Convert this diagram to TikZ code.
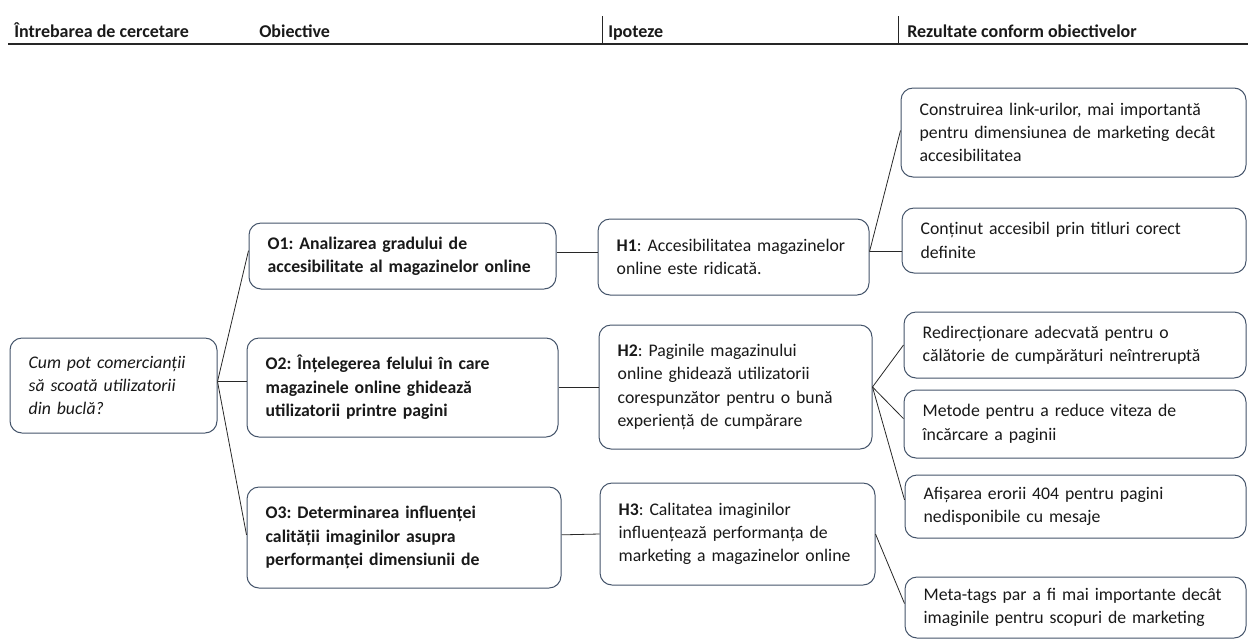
\documentclass[tikz,border=0pt]{standalone}
\usepackage{fontspec}
\setmainfont{Carlito}
\frenchspacing
\definecolor{boxline}{RGB}{68,84,106}
\definecolor{conn}{RGB}{40,40,40}
\definecolor{txt}{RGB}{25,25,25}
\begin{document}
\begin{tikzpicture}[x=0.75pt,y=-0.75pt,
  box/.style={draw=boxline, line width=0.75pt, rounded corners=9pt, fill=white,
    inner xsep=14pt, align=left, text=txt,
    font=\fontsize{13.3}{17.5}\selectfont\frenchspacing},
  bbox/.style={box, font=\fontsize{13.3}{17.5}\selectfont\bfseries\frenchspacing},
  connector/.style={draw=conn, line width=0.6pt},
  head/.style={anchor=base west, inner sep=0pt, text=txt, font=\fontsize{13.5}{15}\selectfont\bfseries},
  rule/.style={draw=black!85, line width=1.1pt}
]
\useasboundingbox (0,0) rectangle (1248,640);

% header
\node[head] (h1) at (14,37) {Întrebarea de cercetare};
\node[head] (h2) at (259,37) {Obiective};
\node[head] (h3) at (608,37) {Ipoteze};
\node[head] (h4) at (907,37) {Rezultate conform obiectivelor};
\draw[rule] (8,44) -- (1248,44);
\draw[draw=black!85, line width=0.75pt] (602,16) -- (602,44);
\draw[draw=black!85, line width=0.75pt] (898,16) -- (898,44);

% question
\node[box, minimum width=155.25pt, text width=127.25pt, minimum height=71.25pt] (Q) at (113.5,385.5)
  {\itshape Cum pot comercianții\\ să scoată utilizatorii\\ din buclă?};

% objectives
\node[bbox, minimum width=230.25pt, text width=202.25pt, minimum height=49.5pt] (O1) at (402.5,256)
  {O1: Analizarea gradului de\\ accesibilitate al magazinelor online};
\node[bbox, minimum width=233.25pt, text width=205.25pt, minimum height=74.25pt] (O2) at (402.5,387.5)
  {O2: Înțelegerea felului în care\\ magazinele online ghidează\\ utilizatorii printre pagini};
\node[bbox, minimum width=235.5pt, text width=207.5pt, minimum height=75.75pt] (O3) at (404,537.5)
  {O3: Determinarea influenței\\ calității imaginilor asupra\\ performanței dimensiunii de};

% hypotheses
\node[box, minimum width=203.25pt, text width=175.25pt, minimum height=57pt] (H1) at (733.5,257)
  {\textbf{H1}: Accesibilitatea magazinelor\\ online este ridicată.};
\node[box, minimum width=204.75pt, text width=176.75pt, minimum height=93pt] (H2) at (735.5,387)
  {\textbf{H2}: Paginile magazinului\\ online ghidează utilizatorii\\ corespunzător pentru o bună\\ experiență de cumpărare};
\node[box, minimum width=206.25pt, text width=178.25pt, minimum height=76.5pt] (H3) at (737.5,534)
  {\textbf{H3}: Calitatea imaginilor\\ influențează performanța de\\ marketing a magazinelor online};

% results
\node[box, minimum width=258.75pt, text width=230.75pt, minimum height=66.75pt] (R1) at (1073.5,132.5)
  {Construirea link-urilor, mai importantă\\ pentru dimensiunea de marketing decât\\ accesibilitatea};
\node[box, minimum width=258pt, text width=230pt, minimum height=48.75pt] (R2) at (1074,240.5)
  {Conținut accesibil prin titluri corect\\ definite};
\node[box, minimum width=256.5pt, text width=228.5pt, minimum height=49.5pt] (R3) at (1075,345)
  {Redirecționare adecvată pentru o\\ călătorie de cumpărături neîntreruptă};
\node[box, minimum width=256.5pt, text width=228.5pt, minimum height=51pt] (R4) at (1075,424)
  {Metode pentru a reduce viteza de\\ încărcare a paginii};
\node[box, minimum width=255.75pt, text width=227.75pt, minimum height=47.25pt] (R5) at (1075.5,506.5)
  {Afișarea erorii 404 pentru pagini\\ nedisponibile cu mesaje};
\node[box, minimum width=255.75pt, text width=227.75pt, minimum height=45.75pt] (R6) at (1075.5,607.5)
  {Meta-tags par a fi mai importante decât\\ imaginile pentru scopuri de marketing};

% connectors
\draw[connector] ([yshift=3pt]Q.east) -- ([yshift=4pt]O1.west);
\draw[connector] ([yshift=3pt]Q.east) -- ([yshift=3pt]Q.east -| O2.west);
\draw[connector] ([yshift=3pt]Q.east) -- ([yshift=2pt]O3.west);
\draw[connector] ([yshift=3pt]O1.east) -- ([yshift=3pt]O1.east -| H1.west);
\draw[connector] (O2.east) -- (O2.east -| H2.west);
\draw[connector] ([yshift=2pt]O3.east) -- (H3.west);
\draw[connector] ([yshift=4pt]H1.east) -- ([yshift=1.5pt]R1.west);
\draw[connector] ([yshift=4pt]H1.east) -- ([yshift=4pt]H1.east -| R2.west);
\draw[connector] (H2.east) -- (R3.west);
\draw[connector] (H2.east) -- ([yshift=4pt]R4.west);
\draw[connector] (H2.east) -- ([yshift=5pt]R5.west);
\draw[connector] (H3.east) -- ([yshift=3pt]R6.west);
\end{tikzpicture}
\end{document}
